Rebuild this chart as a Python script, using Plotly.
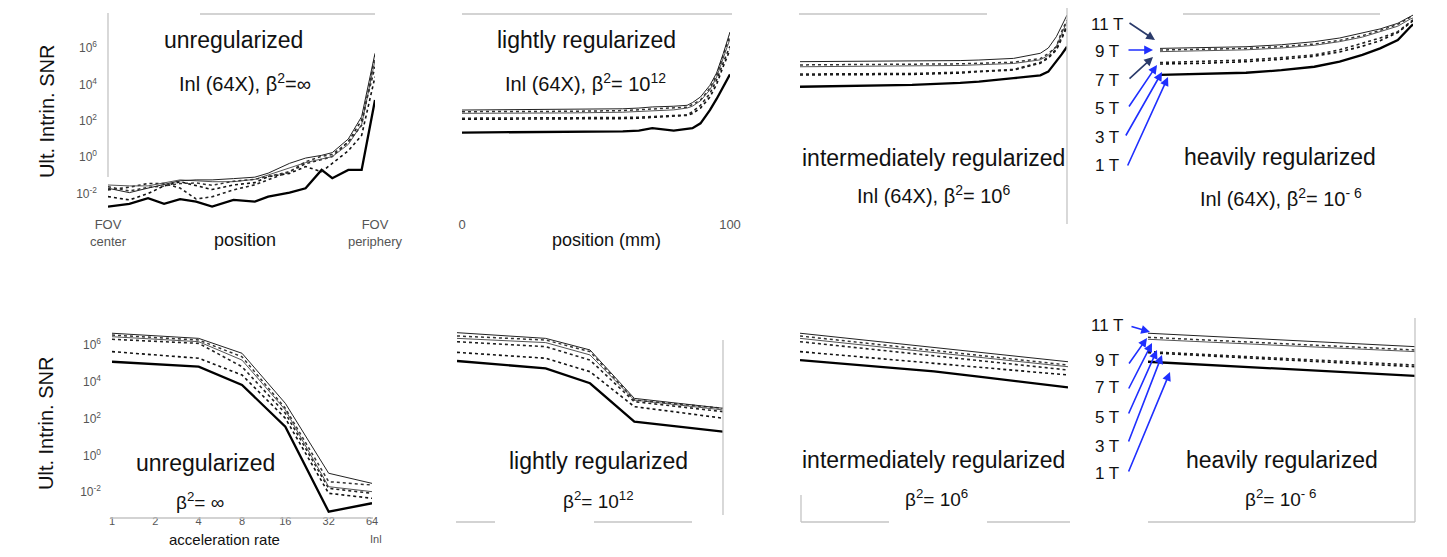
import plotly.graph_objects as go

# page canvas (reference pixels) and the figure size inside the 8px body margin
W, H = 1447, 557
OFF = 8
FIG_W, FIG_H = W - 2 * OFF, H - 2 * OFF

FIELDS = ["1 T", "3 T", "5 T", "7 T", "9 T", "11 T"]

# ---------------- top row: SNR (log10) vs position (mm) ----------------
P1_X = [0, 8, 15, 21, 27, 33, 39, 47, 55, 60, 68, 74, 80, 84, 90, 95, 100]
P1_1T = [-2.72, -2.57, -2.26, -2.57, -2.31, -2.44, -2.72, -2.35, -2.44, -2.17, -1.95, -1.71, -0.70, -1.16, -0.70, -0.70, 3.14]
P1_3T = [-2.17, -2.35, -2.00, -1.58, -1.35, -1.58, -1.78, -1.53, -1.40, -1.07, -0.89, -0.52, -0.80, -0.34, 0.35, 1.20, 4.42]
P1_5T = [-1.80, -1.65, -1.45, -1.45, -1.70, -2.30, -2.18, -1.80, -1.52, -1.25, -0.80, -0.36, -0.13, 0.03, 0.85, 2.04, 4.97]
P1_7T = [-1.53, -1.58, -1.58, -1.40, -1.25, -1.30, -1.35, -1.35, -1.22, -0.98, -0.58, -0.30, -0.10, 0.03, 0.70, 1.80, 5.34]
P1_9T = [-1.62, -1.86, -1.66, -1.58, -1.45, -1.42, -1.55, -1.32, -1.22, -1.06, -0.80, -0.25, 0.05, 0.15, 0.82, 1.75, 5.60]
P1_11T = [-1.71, -1.95, -1.70, -1.50, -1.30, -1.25, -1.25, -1.18, -1.10, -0.88, -0.34, -0.05, 0.10, 0.25, 1.00, 2.23, 5.71]

P2_X = [0, 20, 40, 60, 66, 71, 79, 84, 86, 89, 92.5, 95, 97.5, 100]
P2_1T = [1.35, 1.36, 1.38, 1.42, 1.46, 1.59, 1.46, 1.55, 1.59, 1.86, 2.59, 3.20, 3.85, 4.55]
P2_3T = [2.08, 2.08, 2.10, 2.12, 2.14, 2.18, 2.22, 2.30, 2.40, 2.70, 3.30, 4.00, 5.00, 5.90]
P2_5T = [2.14, 2.14, 2.16, 2.18, 2.20, 2.24, 2.28, 2.32, 2.50, 2.85, 3.50, 4.24, 5.20, 6.10]
P2_7T = [2.41, 2.41, 2.43, 2.47, 2.50, 2.55, 2.60, 2.70, 2.80, 3.10, 3.70, 4.40, 5.40, 6.50]
P2_9T = [2.50, 2.50, 2.52, 2.56, 2.60, 2.64, 2.70, 2.75, 2.90, 3.14, 3.80, 4.50, 5.60, 6.70]
P2_11T = [2.59, 2.60, 2.62, 2.66, 2.70, 2.76, 2.80, 2.85, 3.00, 3.31, 3.95, 4.63, 5.70, 6.88]

P3_X = [0, 20, 42, 60, 67, 80, 90, 93, 96, 98, 100]
P3_1T = [3.87, 3.92, 3.97, 4.08, 4.15, 4.34, 4.50, 4.70, 5.25, 5.65, 6.07]
P3_3T = [4.52, 4.53, 4.55, 4.62, 4.70, 4.79, 5.16, 5.45, 5.89, 6.50, 7.17]
P3_5T = [4.57, 4.58, 4.60, 4.67, 4.72, 4.82, 5.20, 5.50, 5.95, 6.60, 7.25]
P3_7T = [4.97, 4.98, 5.00, 5.04, 5.08, 5.15, 5.35, 5.60, 6.10, 6.80, 7.45]
P3_9T = [5.07, 5.08, 5.10, 5.13, 5.16, 5.22, 5.42, 5.70, 6.07, 6.90, 7.54]
P3_11T = [5.25, 5.26, 5.28, 5.31, 5.34, 5.43, 5.71, 6.00, 6.62, 7.20, 7.81]

P4_X = [0, 17, 34, 48, 61, 71, 80, 87, 94, 99, 100]
P4_1T = [4.52, 4.57, 4.64, 4.78, 4.97, 5.25, 5.62, 5.98, 6.44, 7.17, 7.30]
P4_3T = [5.12, 5.16, 5.25, 5.38, 5.55, 5.78, 6.10, 6.40, 6.85, 7.40, 7.50]
P4_5T = [5.20, 5.26, 5.34, 5.47, 5.62, 5.90, 6.26, 6.55, 6.90, 7.45, 7.55]
P4_7T = [5.80, 5.84, 5.90, 6.00, 6.15, 6.35, 6.60, 6.90, 7.20, 7.60, 7.65]
P4_9T = [5.89, 5.93, 5.98, 6.08, 6.22, 6.42, 6.68, 6.97, 7.30, 7.70, 7.75]
P4_11T = [5.98, 6.02, 6.07, 6.18, 6.35, 6.55, 6.81, 7.05, 7.36, 7.75, 7.81]

# ---------------- bottom row: SNR (log10) vs acceleration rate ----------------
ACCEL = [1, 2, 4, 8, 16, 32, 64]
ACCEL_LABELS = ["1", "2", "4", "8", "16", "32", "64"]

P5_1T = [5.09, 4.97, 4.82, 3.83, 1.56, -3.06, -2.60]
P5_3T = [5.64, 5.46, 5.28, 4.37, 2.02, -2.06, -2.33]
P5_5T = [6.31, 6.20, 6.09, 4.82, 2.29, -1.79, -2.06]
P5_7T = [6.45, 6.32, 6.18, 5.18, 2.47, -1.70, -1.97]
P5_9T = [6.54, 6.40, 6.27, 5.36, 2.56, -1.43, -1.61]
P5_11T = [6.64, 6.50, 6.36, 5.55, 2.83, -0.97, -1.52]

P6_1T = [5.13, 4.93, 4.73, 3.92, 1.83, 1.56, 1.29]
P6_3T = [5.60, 5.44, 5.28, 4.55, 2.65, 2.34, 2.02]
P6_5T = [6.18, 6.05, 5.91, 5.18, 2.92, 2.65, 2.38]
P6_7T = [6.36, 6.25, 6.13, 5.46, 3.01, 2.74, 2.47]
P6_9T = [6.49, 6.38, 6.27, 5.64, 3.01, 2.79, 2.56]
P6_11T = [6.67, 6.52, 6.36, 5.73, 3.10, 2.83, 2.56]

P7_1T = [5.18, 4.98, 4.78, 4.57, 4.28, 3.99, 3.70]
P7_3T = [5.64, 5.43, 5.22, 5.01, 4.79, 4.58, 4.37]
P7_5T = [6.18, 5.93, 5.67, 5.41, 5.16, 4.90, 4.64]
P7_7T = [6.36, 6.10, 5.85, 5.59, 5.33, 5.08, 4.82]
P7_9T = [6.49, 6.23, 5.96, 5.70, 5.44, 5.17, 4.91]
P7_11T = [6.64, 6.38, 6.12, 5.87, 5.61, 5.35, 5.09]

P8_1T = [5.09, 4.96, 4.83, 4.71, 4.58, 4.45, 4.32]
P8_3T = [5.58, 5.45, 5.33, 5.20, 5.07, 4.95, 4.82]
P8_5T = [5.64, 5.52, 5.40, 5.28, 5.15, 5.03, 4.91]
P8_7T = [6.31, 6.20, 6.09, 5.98, 5.86, 5.75, 5.64]
P8_9T = [6.42, 6.31, 6.19, 6.08, 5.96, 5.85, 5.73]
P8_11T = [6.64, 6.52, 6.40, 6.28, 6.15, 6.03, 5.91]

Y_TICKVALS = [1e-2, 1, 1e2, 1e4, 1e6]
Y_TICKTEXT = ["10<sup>-2</sup>", "10<sup>0</sup>", "10<sup>2</sup>", "10<sup>4</sup>", "10<sup>6</sup>"]

PANEL_TITLES = ["unregularized", "lightly regularized", "intermediately regularized", "heavily regularized"]
TOP_FORMULAS = ["Inl (64X), β<sup>2</sup>=∞", "Inl (64X), β<sup>2</sup>= 10<sup>12</sup>",
                "Inl (64X), β<sup>2</sup>= 10<sup>6</sup>", "Inl (64X), β<sup>2</sup>= 10<sup>- 6</sup>"]
BOT_FORMULAS = ["β<sup>2</sup>= ∞", "β<sup>2</sup>= 10<sup>12</sup>",
                "β<sup>2</sup>= 10<sup>6</sup>", "β<sup>2</sup>= 10<sup>- 6</sup>"]

# ---------------- styles / layout ----------------
STYLE = {
    "1 T": dict(color="#000000", width=2.3, dash="solid"),
    "3 T": dict(color="#111111", width=1.6, dash="dot"),
    "5 T": dict(color="#222222", width=1.6, dash="dot"),
    "7 T": dict(color="#555555", width=1.0, dash="solid"),
    "9 T": dict(color="#333333", width=1.5, dash="dot"),
    "11 T": dict(color="#222222", width=1.0, dash="solid"),
}
FONT = "Liberation Sans, Arial, sans-serif"

TOP_Y = (10, 215)
BOT_Y = (315, 513)
TOP_RANGE = [-3.18, 8.09]
BOT_RANGE = [-3.13, 7.63]
PANELS = [
    (108, 375, TOP_Y, TOP_RANGE),
    (462, 730, TOP_Y, TOP_RANGE),
    (800, 1067, TOP_Y, TOP_RANGE),
    (1160, 1413, TOP_Y, TOP_RANGE),
    (112, 372, BOT_Y, BOT_RANGE),
    (457, 723, BOT_Y, BOT_RANGE),
    (800, 1068, BOT_Y, BOT_RANGE),
    (1148, 1415, BOT_Y, BOT_RANGE),
]

TOP_DATA = [
    (P1_X, [P1_1T, P1_3T, P1_5T, P1_7T, P1_9T, P1_11T]),
    (P2_X, [P2_1T, P2_3T, P2_5T, P2_7T, P2_9T, P2_11T]),
    (P3_X, [P3_1T, P3_3T, P3_5T, P3_7T, P3_9T, P3_11T]),
    (P4_X, [P4_1T, P4_3T, P4_5T, P4_7T, P4_9T, P4_11T]),
]
BOT_DATA = [
    [P5_1T, P5_3T, P5_5T, P5_7T, P5_9T, P5_11T],
    [P6_1T, P6_3T, P6_5T, P6_7T, P6_9T, P6_11T],
    [P7_1T, P7_3T, P7_5T, P7_7T, P7_9T, P7_11T],
    [P8_1T, P8_3T, P8_5T, P8_7T, P8_9T, P8_11T],
]


def px(x):
    return (x - OFF) / FIG_W


def py(y):
    return 1 - (y - OFF) / FIG_H


fig = go.Figure()


def ax_names(i):
    return ("x", "y") if i == 1 else (f"x{i}", f"y{i}")


def add_curves(i, xs, series):
    xr, yr = ax_names(i)
    for f, vals in zip(FIELDS, series):
        fig.add_trace(go.Scatter(
            x=xs, y=[10 ** v for v in vals], mode="lines", name=f,
            line=STYLE[f], xaxis=xr, yaxis=yr, showlegend=False, hoverinfo="skip"))


for k, (xs, series) in enumerate(TOP_DATA):
    add_curves(k + 1, xs, series)
for k, series in enumerate(BOT_DATA):
    add_curves(k + 5, ACCEL, series)

layout = {}
tickfont = dict(family=FONT, size=13, color="#555555")
for i, (x0, x1, (y0, y1), yrange) in enumerate(PANELS, start=1):
    xkey = "xaxis" if i == 1 else f"xaxis{i}"
    ykey = "yaxis" if i == 1 else f"yaxis{i}"
    xr, yr = ax_names(i)
    xa = dict(domain=[px(x0), px(x1)], anchor=yr, showgrid=False, zeroline=False,
              showline=False, ticks="", tickfont=tickfont, fixedrange=True, automargin=False)
    if i <= 4:
        xa.update(type="linear", range=[0, 100])
        if i == 1:
            xa.update(tickvals=[0, 100], ticktext=["FOV<br>center", "FOV<br>periphery"])
        elif i == 2:
            xa.update(tickvals=[0, 100], ticktext=["0", "100"])
        else:
            xa.update(showticklabels=False)
    else:
        xa.update(type="log", range=[0, 1.80618], tickfont=dict(family=FONT, size=11, color="#555555"))
        if i == 5:
            xa.update(tickvals=ACCEL, ticktext=ACCEL_LABELS)
        else:
            xa.update(showticklabels=False)
    ya = dict(domain=[py(y1), py(y0)], anchor=xr, type="log", range=yrange,
              showgrid=False, zeroline=False, showline=False, ticks="", automargin=False,
              tickfont=dict(family=FONT, size=12, color="#555555"), fixedrange=True)
    if i in (1, 5):
        ya.update(tickvals=Y_TICKVALS, ticktext=Y_TICKTEXT, ticklabelstandoff=10)
    else:
        ya.update(showticklabels=False)
    layout[xkey] = xa
    layout[ykey] = ya

annotations = []


def text(t, x, y, size, color="#111111", angle=0):
    annotations.append(dict(text=t, x=px(x), y=py(y), xref="paper", yref="paper",
                            showarrow=False, textangle=angle, xanchor="center", yanchor="middle",
                            font=dict(family=FONT, size=size, color=color)))


TITLE_POS_TOP = [(234, 40), (586, 40), (933, 158), (1280, 157)]
FORM_POS_TOP = [(245, 83), (585, 83), (933, 195), (1281, 197)]
TITLE_POS_BOT = [(205, 463), (598, 461), (933, 460), (1282, 460)]
FORM_POS_BOT = [(200, 501), (598, 500), (937, 498), (1280, 498)]
for t, (x, y) in zip(PANEL_TITLES, TITLE_POS_TOP):
    text(t, x, y, 23)
for t, (x, y) in zip(TOP_FORMULAS, FORM_POS_TOP):
    text(t, x, y, 20)
for t, (x, y) in zip(PANEL_TITLES, TITLE_POS_BOT):
    text(t, x, y, 23)
for t, (x, y) in zip(BOT_FORMULAS, FORM_POS_BOT):
    text(t, x, y, 19)

text("Ult. Intrin. SNR", 47, 112, 20, angle=-90)
text("Ult. Intrin. SNR", 46, 424, 20, angle=-90)
text("position", 245, 240, 18)
text("position (mm)", 606, 240, 18)
text("acceleration rate", 224, 539, 15)
text("Inl", 376, 539, 11, color="#555555")

# field-strength labels and arrows
LABEL_Y_TOP = [165, 138, 108, 80, 51, 24]
LABEL_Y_BOT = [473, 447, 417, 387, 360, 325]
for f, yt, yb in zip(FIELDS, LABEL_Y_TOP, LABEL_Y_BOT):
    text(f, 1107, yt, 17)
    text(f, 1107, yb, 17)

ARROWS_TOP = [((1127, 167), (1168, 77), "#1f2fff"), ((1125, 137), (1162, 72), "#1f2fff"),
              ((1128, 108), (1157, 65), "#1f2fff"), ((1128, 80), (1153, 57), "#2a3a6a"),
              ((1127, 50), (1153, 50), "#1f2fff"), ((1128, 22), (1155, 40), "#2a3a6a")]
ARROWS_BOT = [((1128, 473), (1170, 372), "#1f2fff"), ((1128, 443), (1162, 355), "#1f2fff"),
              ((1128, 415), (1157, 350), "#1f2fff"), ((1128, 390), (1152, 343), "#1f2fff"),
              ((1128, 365), (1147, 338), "#1f2fff"), ((1130, 326), (1150, 332), "#1f2fff")]
for (tx, ty), (hx, hy), col in ARROWS_TOP + ARROWS_BOT:
    annotations.append(dict(text="", x=px(hx), y=py(hy), xref="paper", yref="paper",
                            ax=tx - hx, ay=ty - hy, showarrow=True, arrowhead=2,
                            arrowsize=1.1, arrowwidth=1.6, arrowcolor=col))

# faint frame fragments of the original figure
FRAME = [((108, 13), (108, 177)), ((200, 14), (375, 14)), ((462, 14), (732, 14)),
         ((799, 14), (987, 14)), ((1067, 0), (1067, 224)), ((1183, 14), (1380, 14)),
         ((110, 518), (373, 518)), ((723, 340), (723, 515)), ((456, 522), (495, 522)),
         ((594, 522), (692, 522)), ((801, 522), (889, 522)), ((987, 522), (1070, 522)),
         ((801, 495), (801, 522)), ((1148, 522), (1415, 522)), ((1415, 318), (1415, 522))]
shapes = [dict(type="line", xref="paper", yref="paper", x0=px(a[0]), y0=py(a[1]),
               x1=px(b[0]), y1=py(b[1]), line=dict(color="#c4c4c4", width=1.3))
          for a, b in FRAME]

fig.update_layout(width=FIG_W, height=FIG_H,
                  margin=dict(l=0, r=0, t=0, b=0, pad=0, autoexpand=False),
                  paper_bgcolor="white", plot_bgcolor="white", showlegend=False,
                  annotations=annotations, shapes=shapes, **layout)

fig.write_html("out.html")
